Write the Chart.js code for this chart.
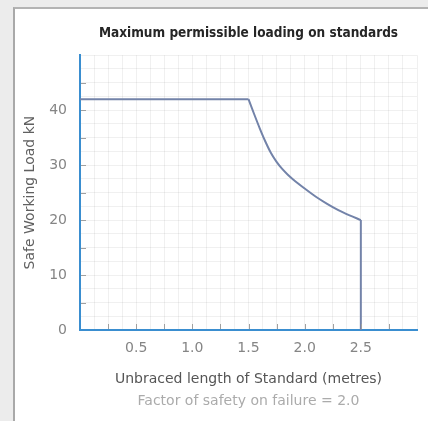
<!DOCTYPE html>
<html>
<head>
<meta charset="utf-8">
<script src="https://cdn.jsdelivr.net/npm/chart.js@4.4.1/dist/chart.umd.min.js"></script>
<style>
  html, body { margin: 0; padding: 0; width: 428px; height: 421px; overflow: hidden; background: #ececec; }
  #panel { position: absolute; left: 13px; top: 7px; width: 420px; height: 420px; background: #ffffff;
           border-left: 2px solid #a9a9a9; border-top: 2px solid #b3b3b3; }
  #wrap { position: absolute; left: 0; top: 0; width: 428px; height: 421px; }
</style>
</head>
<body>
<div id="panel"></div>
<div id="wrap"><canvas id="c" width="428" height="421"></canvas></div>
<script>
// ---- data ----
const flatLength   = [0, 1.5];            // metres
const flatLoad     = [42, 42];            // kN
const curveLength  = [1.5, 1.55, 1.6, 1.65, 1.7, 1.75, 1.8, 1.85, 1.9, 2.0, 2.1, 2.2, 2.3, 2.4, 2.5];
const curveLoad    = [42, 39.3, 36.7, 34.3, 32.2, 30.6, 29.3, 28.25, 27.35, 25.75, 24.25, 22.95, 21.8, 20.85, 20];
const cutoffLength = [2.5, 2.5];
const cutoffLoad   = [20, 0];

const xTickLabels = ['0.5', '1.0', '1.5', '2.0', '2.5'];
const yTickLabels = ['0', '10', '20', '30', '40'];
const xTickMarks  = [0.25, 0.5, 0.75, 1.0, 1.25, 1.5, 1.75, 2.0, 2.25, 2.5, 2.75];
const yTickMarks  = [5, 10, 15, 20, 25, 30, 35, 40, 45];

const chartTitle = 'Maximum permissible loading on standards';
const xTitle = 'Unbraced length of Standard (metres)';
const yTitle = 'Safe Working Load kN';
const noteText = 'Factor of safety on failure = 2.0';

const toPts = (xs, ys) => xs.map((v, i) => ({ x: v, y: ys[i] }));

const lineColor = '#7383a9';
const axisBlue = '#3a8ed0';
const gridColor = 'rgba(0,0,0,0.06)';

const innerTicks = {
  id: 'innerTicks',
  afterDatasetsDraw(chart) {
    const { ctx, scales: { x, y }, chartArea: a } = chart;
    ctx.save();
    ctx.strokeStyle = '#a0a0a0';
    ctx.lineWidth = 1;
    ctx.beginPath();
    xTickMarks.forEach(v => {
      const px = Math.round(x.getPixelForValue(v)) + 0.5;
      ctx.moveTo(px, a.bottom - 1);
      ctx.lineTo(px, a.bottom - 6);
    });
    yTickMarks.forEach(v => {
      const py = Math.round(y.getPixelForValue(v)) + 0.5;
      ctx.moveTo(a.left + 1, py);
      ctx.lineTo(a.left + 6, py);
    });
    ctx.stroke();
    ctx.restore();
  }
};

const ds = (pts, mode) => ({
  data: pts,
  borderColor: lineColor,
  borderWidth: 2,
  pointRadius: 0,
  fill: false,
  tension: 0,
  cubicInterpolationMode: mode
});

new Chart(document.getElementById('c'), {
  type: 'line',
  data: {
    datasets: [
      ds(toPts(flatLength, flatLoad), 'default'),
      ds(toPts(curveLength, curveLoad), 'monotone'),
      ds(toPts(cutoffLength, cutoffLoad), 'default')
    ]
  },
  plugins: [innerTicks],
  options: {
    responsive: false,
    animation: false,
    devicePixelRatio: 1,
    layout: { padding: { left: 0, right: 11, top: 0, bottom: 0 } },
    plugins: {
      legend: { display: false },
      tooltip: { enabled: false },
      title: {
        display: true,
        text: chartTitle,
        fullSize: false,
        color: '#262626',
        font: { family: '"DejaVu Sans Condensed", "DejaVu Sans"', weight: 'bold', size: 13.5, lineHeight: 1.2 },
        padding: { top: 25, bottom: 14 }
      },
      subtitle: {
        display: true,
        position: 'bottom',
        text: noteText,
        fullSize: false,
        color: '#ababab',
        font: { family: '"DejaVu Sans"', size: 14, lineHeight: 1.2 },
        padding: { top: 3, bottom: 11 }
      }
    },
    scales: {
      x: {
        type: 'linear',
        min: 0, max: 3,
        position: 'bottom',
        afterFit: s => { s.height = 60.2; },
        border: { color: axisBlue, width: 2 },
        grid: { color: gridColor, drawTicks: false, lineWidth: 1 },
        ticks: {
          stepSize: 0.125,
          autoSkip: false,
          maxRotation: 0,
          padding: 10,
          color: '#858585',
          font: { family: '"DejaVu Sans"', size: 14 },
          callback: v => {
            const s = Number(v).toFixed(1);
            return (Math.abs(v * 2 - Math.round(v * 2)) < 1e-9 && xTickLabels.includes(s)) ? s : '';
          }
        },
        title: {
          display: true,
          text: xTitle,
          color: '#555555',
          font: { family: '"DejaVu Sans"', size: 14, lineHeight: 1.2 },
          padding: { top: 0, bottom: 2 }
        }
      },
      y: {
        type: 'linear',
        min: 0, max: 50,
        afterFit: s => { s.width = 80; },
        border: { color: axisBlue, width: 2 },
        grid: { color: gridColor, drawTicks: false, lineWidth: 1 },
        ticks: {
          stepSize: 2.5,
          autoSkip: false,
          padding: 13,
          color: '#858585',
          font: { family: '"DejaVu Sans"', size: 14 },
          callback: v => {
            const s = String(v);
            return yTickLabels.includes(s) ? s : '';
          }
        },
        title: {
          display: true,
          text: yTitle,
          color: '#606060',
          font: { family: '"DejaVu Sans"', size: 14, lineHeight: 1.2 },
          padding: { top: 21.6, bottom: 0 }
        }
      }
    }
  }
});
</script>
</body>
</html>
